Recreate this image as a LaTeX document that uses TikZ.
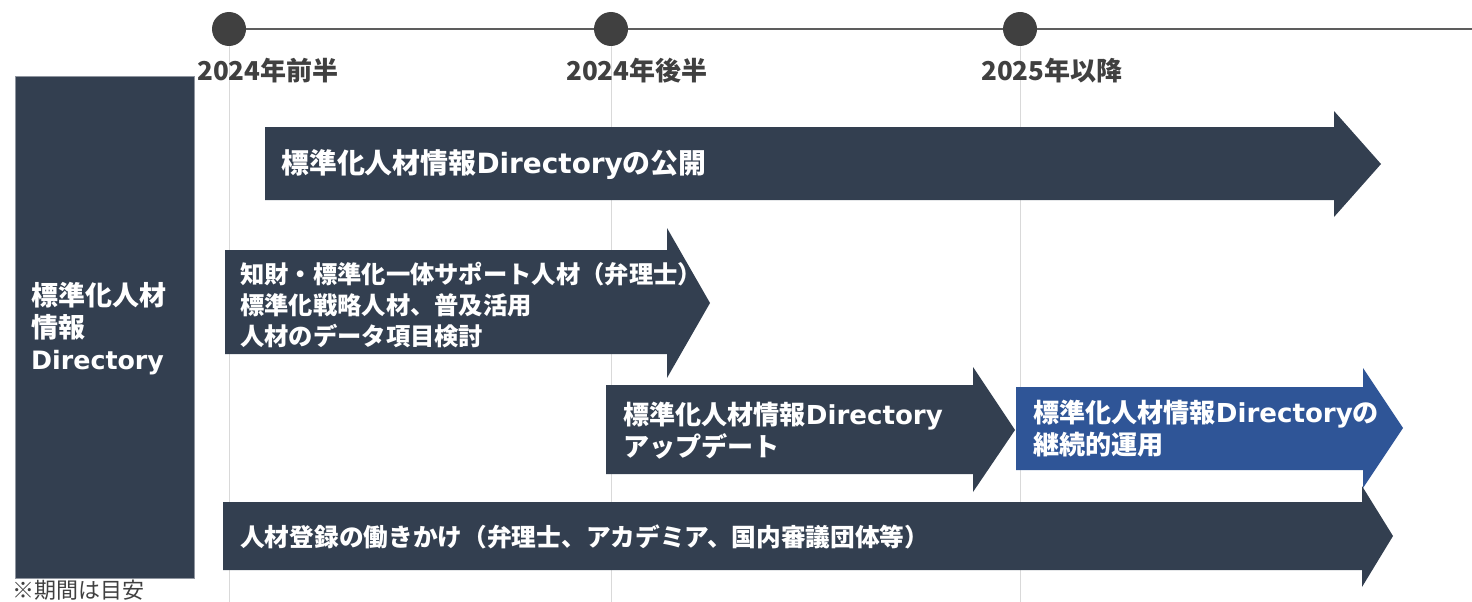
\documentclass[tikz,border=0pt]{standalone}
\usepackage{fontspec}
\setmainfont{Noto Sans CJK JP}
\newfontfamily\lat{DejaVu Sans}
\definecolor{navy}{HTML}{333F50}
\definecolor{blu}{HTML}{2F5597}
\definecolor{grd}{HTML}{404040}
\definecolor{gridc}{HTML}{D9D9D9}
\newcommand{\dir}{{\lat Directory}}
\begin{document}
\begin{tikzpicture}[x=1pt,y=-1pt,
  gridl/.style={draw=gridc,line width=1pt},
  tline/.style={draw=grd!85,line width=2.2pt},
  dot/.style={circle,fill=grd,minimum size=34pt,inner sep=0},
  datelbl/.style={anchor=west,inner sep=0,text=grd,font=\bfseries\fontsize{26}{30}\selectfont},
  bar/.style={fill=navy},
  bluebar/.style={fill=blu},
  lbl/.style={anchor=west,inner sep=0,text=white,align=left,font=\bfseries\fontsize{24}{31}\selectfont},
  sidebox/.style={fill=navy,draw=navy!55!white,line width=0.8pt},
  note/.style={anchor=north west,inner sep=0,text=grd,font=\fontsize{22}{24}\selectfont}]
\useasboundingbox (0,0) rectangle (1472,602);
% grid lines
\draw[gridl] (229,45) -- (229,602);
\draw[gridl] (611,45) -- (611,602);
\draw[gridl] (1020,45) -- (1020,602);
% timeline
\coordinate (tlend) at (1472,29);
\node[dot] (t1) at (229,29) {};
\node[dot] (t2) at (611,29) {};
\node[dot] (t3) at (1020,29) {};
\draw[tline] (t1) -- (t2);
\draw[tline] (t2) -- (t3);
\draw[tline] (t3) -- (tlend);
\node[datelbl] (d1) at (197,71) {2024年前半};
\node[datelbl] (d2) at (566,71) {2024年後半};
\node[datelbl] (d3) at (981,71) {2025年以降};
% side box
\fill[sidebox] (15,76) rectangle (194,578);
\node[lbl,font=\bfseries\fontsize{27}{32}\selectfont] (side) at (31,329) {標準化人材\\情報\\{\fontsize{25.3}{32}\selectfont\dir}};
% arrows
\fill[bar] (265,127) -- (1334,127) -- (1334,111) -- (1381,164) -- (1334,217) -- (1334,200) -- (265,200) -- cycle;
\node[lbl,font=\bfseries\fontsize{27.9}{31}\selectfont] (a1) at (281,165) {標準化人材情報\dir の公開};
\fill[bar] (225,250) -- (667,250) -- (667,228) -- (710,303) -- (667,378) -- (667,354) -- (225,354) -- cycle;
\node[lbl,font=\bfseries\fontsize{24.3}{31}\selectfont] (a2) at (240,305) {知財・標準化一体サポート人材（弁理士）\\標準化戦略人材、普及活用\\人材のデータ項目検討};
\fill[bar] (606,385) -- (973,385) -- (973,367) -- (1015,430) -- (973,492) -- (973,474) -- (606,474) -- cycle;
\node[lbl,font=\bfseries\fontsize{26.1}{32}\selectfont] (a3) at (623,431) {標準化人材情報\dir\\アップデート};
\fill[bar] (223,502) -- (1362,502) -- (1362,486) -- (1393,536) -- (1362,587) -- (1362,570) -- (223,570) -- cycle;
\node[lbl,font=\bfseries\fontsize{24.7}{31}\selectfont] (a5) at (240,537) {人材登録の働きかけ（弁理士、アカデミア、国内審議団体等）};
\fill[bluebar] (1016,387) -- (1363,387) -- (1363,368) -- (1403,428) -- (1363,488) -- (1363,470) -- (1016,470) -- cycle;
\node[lbl,font=\bfseries\fontsize{26.1}{32}\selectfont] (a4) at (1033,429) {標準化人材情報\dir の\\継続的運用};
% note
\node[note] (nt) at (12,580) {※期間は目安};
\end{tikzpicture}
\end{document}
